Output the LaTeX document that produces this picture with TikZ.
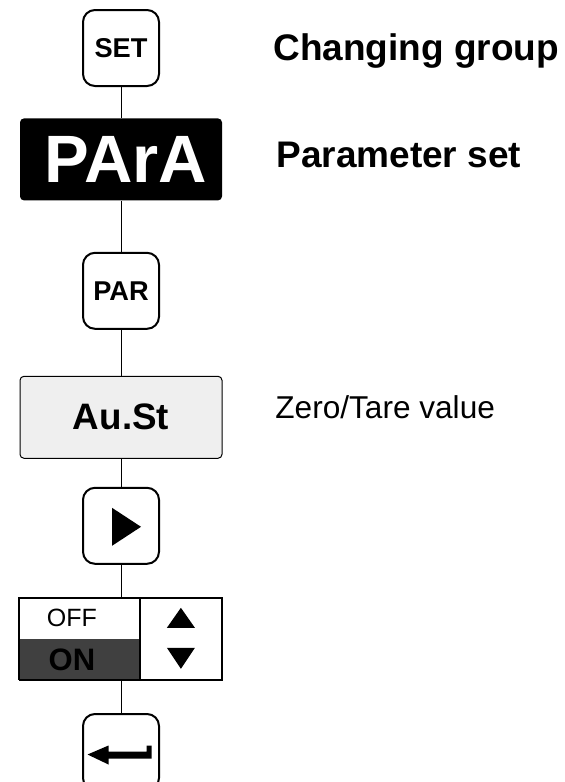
\documentclass[tikz,border=0pt]{standalone}
\usepackage{fontspec}
\setmainfont{Liberation Sans}
\usepackage{tikz}
\usetikzlibrary{positioning,calc}
\usepackage{xcolor}
\definecolor{PanelGray}{RGB}{239,239,239}
\definecolor{OnGray}{RGB}{64,64,64}

\begin{document}
\begin{tikzpicture}[
    x=0.5pt, y=-0.5pt,
    keybox/.style={rectangle, rounded corners=6pt, draw, line width=1pt, minimum width=38pt, minimum height=38pt, inner sep=0pt, font=\bfseries\fontsize{13.6}{16}\selectfont},
    display/.style={rectangle, rounded corners=2pt, minimum width=101pt, minimum height=41pt, inner sep=0pt},
    link/.style={line width=0.5pt},
    note/.style={anchor=base west, inner sep=0pt}
]
\useasboundingbox (0,0) rectangle (564,782);
\node[keybox] (set) at (121,48) {SET};
\node[display, fill=black, text=white, font=\bfseries\fontsize{33.5}{36}\selectfont, below=15.5pt of set] (para) {\hspace*{5pt}PArA};
\node[keybox, below=25.5pt of para] (par) {PAR};
\node[display, draw, fill=PanelGray, line width=0.5pt, font=\bfseries\fontsize{18.4}{22}\selectfont, below=23pt of par] (aust) {Au.St};
\node[keybox, below=14pt of aust] (play) {};
\node[rectangle, draw, line width=0.6pt, minimum width=101.5pt, minimum height=41pt, inner sep=0pt, below=16.5pt of play] (sw) {};
\node[keybox, below=16pt of sw] (enter) {};
% switch panel
\begin{scope}[shift={(sw.north west)}]
\fill[OnGray] (0,41) rectangle (121,82);
\draw[line width=0.6pt] (121,0) -- (121,82);
\draw[line width=0.6pt] (0,0) rectangle (203,82);
\node[font=\fontsize{12.5}{14}\selectfont] (off) at (53,20) {OFF};
\node[font=\bfseries\fontsize{15.5}{18}\selectfont] (on) at (53,62) {ON};
\fill (148,30) -- (176,30) -- (162,10) -- cycle;
\fill (148,50) -- (176,50) -- (162,71) -- cycle;
\end{scope}
% key symbols
\fill[shift={(play.center)}] (-9,-18) -- (20,1) -- (-9,20) -- cycle;
\fill[shift={(enter.center)}] (-33.5,2.5) -- (-12.5,-6.5) -- (-12.5,-0.5) -- (25.5,-0.5) -- (25.5,-6.5) -- (30.5,-6.5) -- (30.5,6.5) -- (-12.5,6.5) -- (-12.5,12.5) -- cycle;
\draw[link] (set) -- (para);
\draw[link] (para) -- (par);
\draw[link] (par) -- (aust);
\draw[link] (aust) -- (play);
\draw[link] (play) -- (sw);
\draw[link] (sw) -- (enter);
\node[note, font=\bfseries\fontsize{18.5}{22}\selectfont] (chg) at (273,60) {Changing group};
\node[note, font=\bfseries\fontsize{18.5}{22}\selectfont] (pset) at (276,167) {Parameter set};
\node[note, font=\fontsize{15.8}{19}\selectfont] (zero) at (275,418) {Zero/Tare value};
\end{tikzpicture}
\end{document}
